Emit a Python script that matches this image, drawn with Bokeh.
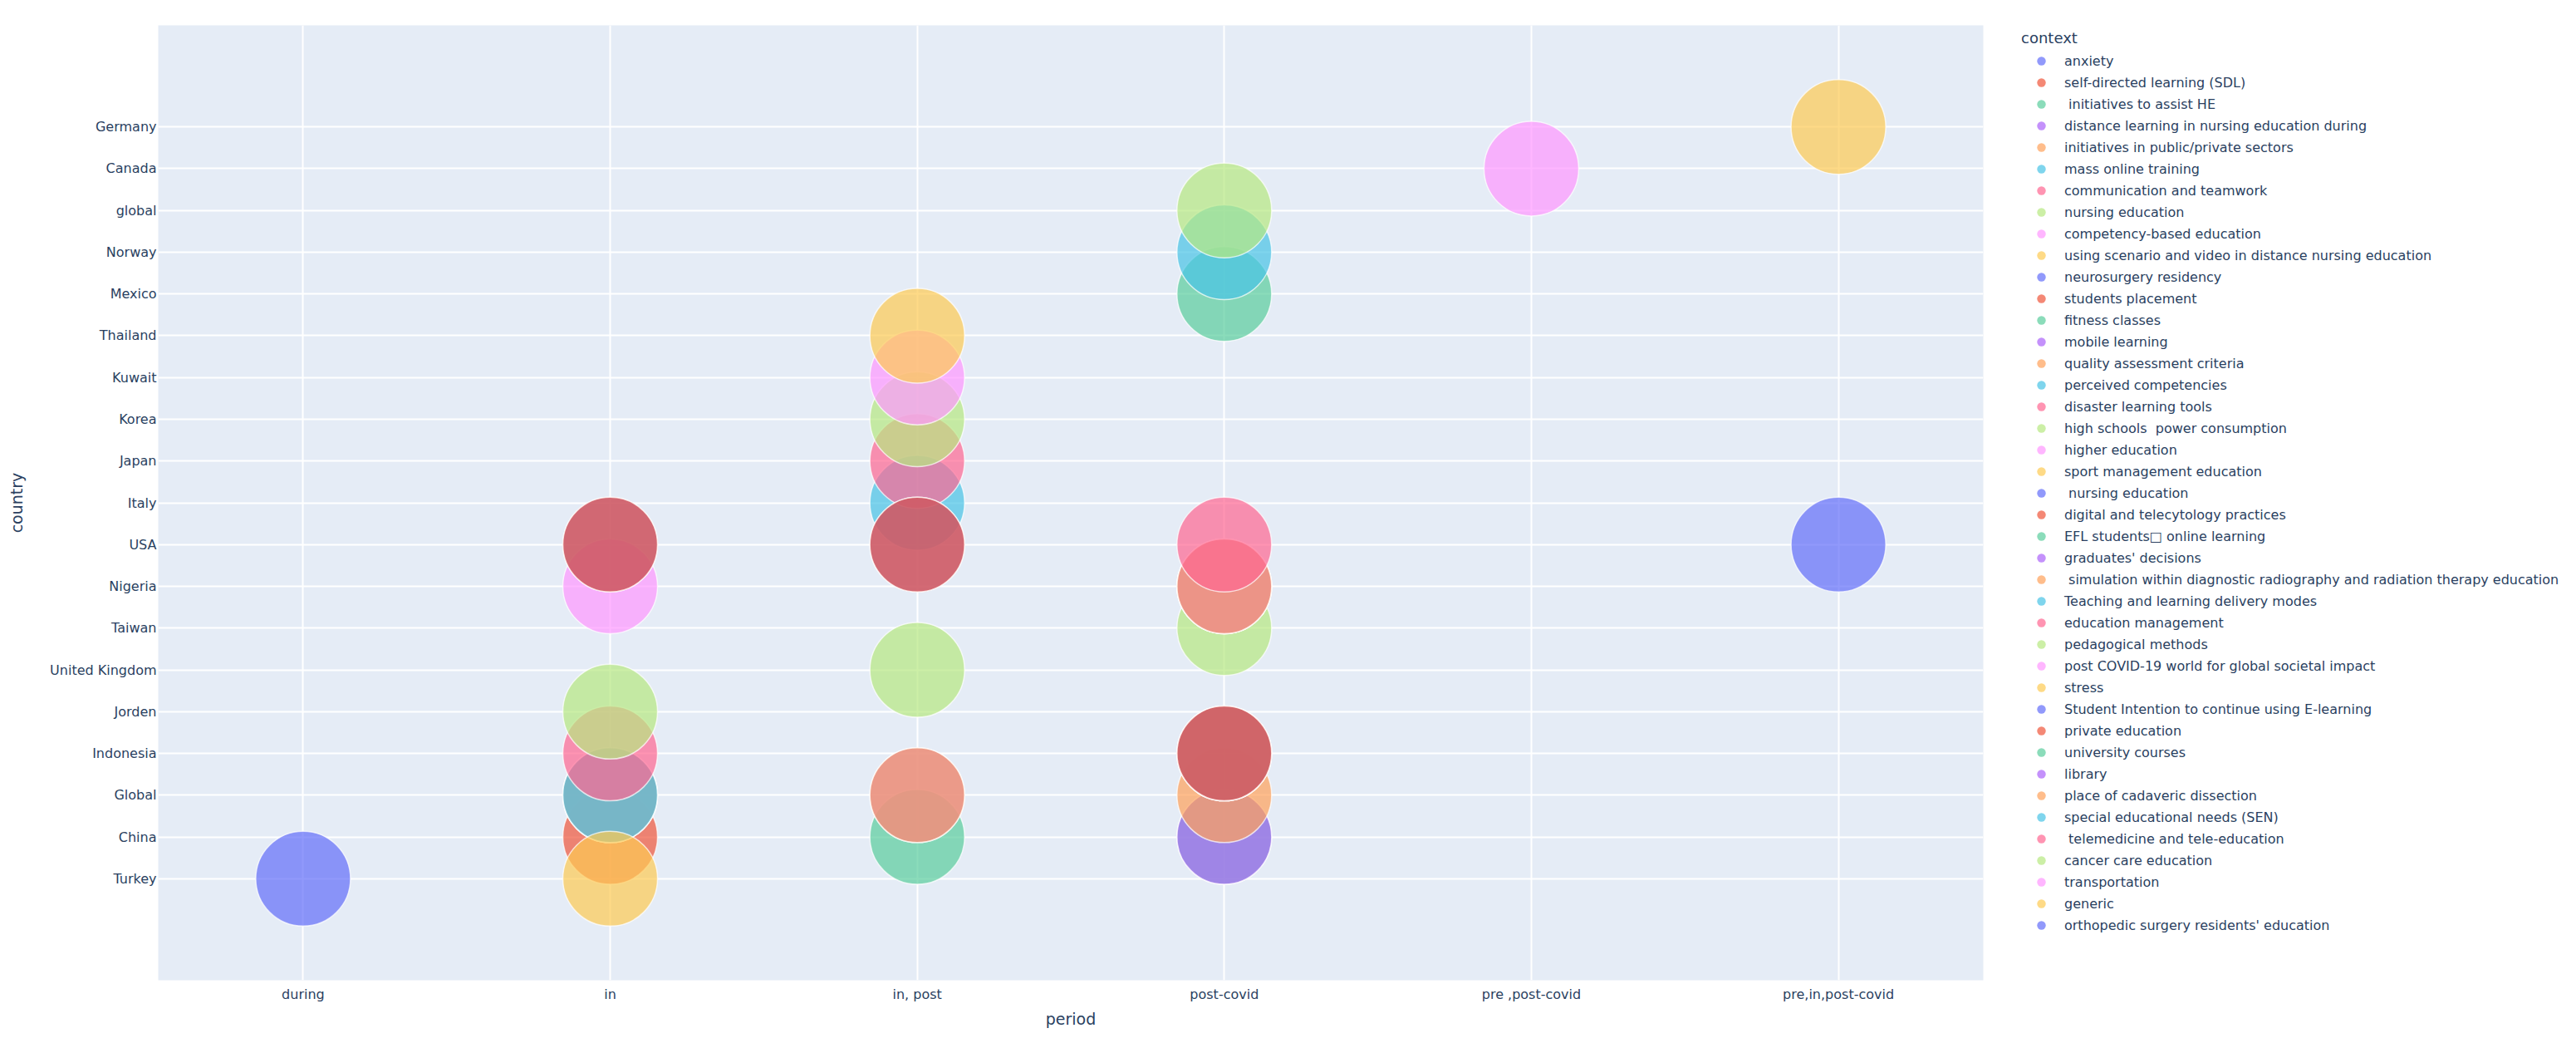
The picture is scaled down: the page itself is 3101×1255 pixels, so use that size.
from bokeh.plotting import figure
from bokeh.layouts import row
from bokeh.models import FactorRange, Range1d, Legend, LegendItem, ColumnDataSource
from bokeh.embed import file_html
from bokeh.resources import INLINE

# ---------------- data ----------------
periods = ["during", "in", "in, post", "post-covid", "pre ,post-covid", "pre,in,post-covid"]
countries = ["Turkey", "China", "Global", "Indonesia", "Jorden", "United Kingdom", "Taiwan",
             "Nigeria", "USA", "Italy", "Japan", "Korea", "Kuwait", "Thailand", "Mexico",
             "Norway", "global", "Canada", "Germany"]

row_context = [
    "anxiety",
    "self-directed learning (SDL)",
    " initiatives to assist HE",
    "distance learning in nursing education during",
    "initiatives in public/private sectors",
    "mass online training",
    "communication and teamwork",
    "nursing education",
    "nursing education",
    "nursing education",
    "competency-based education",
    "using scenario and video in distance nursing education",
    "neurosurgery residency",
    "students placement",
    "fitness classes",
    "mobile learning",
    "quality assessment criteria",
    "perceived competencies",
    "disaster learning tools",
    "high schools  power consumption",
    "higher education",
    "sport management education",
    " nursing education",
    "digital and telecytology practices",
    "EFL students\u25a1 online learning",
    "graduates' decisions",
    " simulation within diagnostic radiography and radiation therapy education",
    "Teaching and learning delivery modes",
    "education management",
    "pedagogical methods",
    "post COVID-19 world for global societal impact",
    "stress",
    "Student Intention to continue using E-learning",
    "private education",
    "university courses",
    "library",
    "place of cadaveric dissection",
    "special educational needs (SEN)",
    " telemedicine and tele-education",
    "cancer care education",
    "transportation",
    "generic",
    "orthopedic surgery residents' education",
]
row_period = [
    "during", "in", "in", "in", "in", "in", "in", "in", "in, post", "post-covid",
    "in", "in", "in", "in", "in, post", "in, post", "in, post", "in, post", "in, post", "in, post",
    "in, post", "in, post", "in, post", "in, post", "post-covid", "post-covid", "post-covid",
    "post-covid", "post-covid", "post-covid", "post-covid", "post-covid", "post-covid",
    "post-covid", "post-covid", "post-covid", "post-covid", "post-covid", "post-covid",
    "post-covid", "pre ,post-covid", "pre,in,post-covid", "pre,in,post-covid",
]
row_country = [
    "Turkey", "China", "Global", "Global", "Global", "Global", "Indonesia", "Jorden",
    "United Kingdom", "Taiwan", "Nigeria", "Turkey", "USA", "USA", "China", "Global", "Global",
    "Italy", "Japan", "Korea", "Kuwait", "Thailand", "USA", "USA", "China", "China", "Global",
    "Indonesia", "Nigeria", "Nigeria", "Nigeria", "Indonesia", "Indonesia", "Indonesia",
    "Mexico", "Nigeria", "Nigeria", "Norway", "USA", "global", "Canada", "Germany", "USA",
]

palette = ["#636EFA", "#EF553B", "#5ACD9D", "#AB63FA", "#FFA15A",
           "#49C3E6", "#FF6692", "#B6E880", "#FF97FF", "#FECB52"]

# ---------------- main figure ----------------
FRAME_W, FRAME_H = 2197, 1149
TXT = "#2a3f5f"
FONT = "DejaVu Sans"

p = figure(
    x_range=FactorRange(factors=periods, range_padding=-0.0094, range_padding_units="percent"),
    y_range=FactorRange(factors=countries, range_padding=0.2032, range_padding_units="percent"),
    frame_width=FRAME_W, frame_height=FRAME_H,
    min_border_left=190, min_border_top=30, min_border_right=10, min_border_bottom=71,
    output_backend="svg", toolbar_location=None,
    background_fill_color="#E5ECF6", border_fill_color="white", outline_line_color=None,
)

for ax in (p.xaxis, p.yaxis):
    ax.axis_line_color = None
    ax.major_tick_line_color = None
    ax.minor_tick_line_color = None
    ax.major_tick_out = 0
    ax.major_tick_in = 0
    ax.major_label_text_font = FONT
    ax.major_label_text_font_size = "16px"
    ax.major_label_text_color = TXT
    ax.axis_label_text_font = FONT
    ax.axis_label_text_font_size = "19px"
    ax.axis_label_text_font_style = "normal"
    ax.axis_label_text_color = TXT

p.xaxis.axis_label = "period"
p.xaxis.major_label_standoff = 7
p.xaxis.axis_label_standoff = 6
p.yaxis.axis_label = "country"
p.yaxis.major_label_standoff = 2
p.yaxis.axis_label_standoff = 26

p.xgrid.grid_line_color = "white"
p.xgrid.grid_line_width = 2
p.ygrid.grid_line_color = "white"
p.ygrid.grid_line_width = 2

contexts = []
for c in row_context:
    if c not in contexts:
        contexts.append(c)

for i, c in enumerate(contexts):
    idx = [k for k, rc in enumerate(row_context) if rc == c]
    src = ColumnDataSource(dict(period=[row_period[k] for k in idx],
                                country=[row_country[k] for k in idx]))
    col = palette[i % len(palette)]
    p.scatter(x="period", y="country", source=src, size=114, marker="circle",
              fill_color=col, fill_alpha=0.7,
              line_color="white", line_width=1.5, line_alpha=0.7)

# ---------------- legend panel ----------------
lg = figure(width=700, height=1250, x_range=Range1d(0, 1), y_range=Range1d(0, 1),
            min_border_left=31, min_border_top=6, min_border_right=0, min_border_bottom=0,
            output_backend="svg", toolbar_location=None,
            x_axis_type=None, y_axis_type=None, outline_line_color=None,
            background_fill_color="white", border_fill_color="white")
lg.grid.visible = False

nan = float("nan")
items = []
for i, c in enumerate(contexts):
    col = palette[i % len(palette)]
    # legend-only proxy glyph (no visible mark)
    r = lg.scatter(x=[nan], y=[nan], size=12, marker="circle", fill_color=col, fill_alpha=0.7,
                   line_color=None)
    items.append(LegendItem(label=c, renderers=[r]))

legend = Legend(
    items=items, location="top_left",
    title="context", title_text_font=FONT, title_text_font_size="18px",
    title_text_font_style="normal", title_text_color=TXT, title_standoff=4,
    label_text_font=FONT, label_text_font_size="16px", label_text_color=TXT,
    glyph_width=48, glyph_height=26, label_height=20, label_standoff=4,
    spacing=0, padding=0, margin=5,
    border_line_alpha=0, background_fill_alpha=0,
)
lg.add_layout(legend, "center")

layout = row(p, lg)
open("out.html", "w").write(file_html(layout, INLINE))
